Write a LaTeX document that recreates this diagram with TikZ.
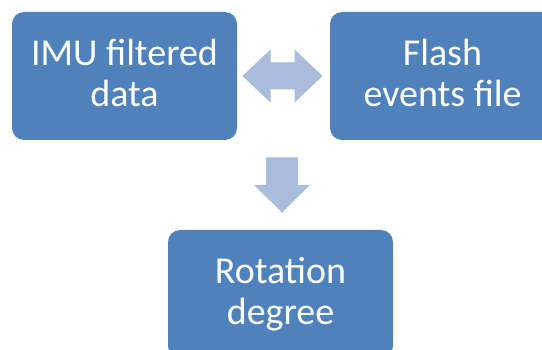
\documentclass[tikz,border=0pt]{standalone}
\usepackage{fontspec}
\setmainfont{Carlito}
\usetikzlibrary{calc}
\definecolor{boxblue}{HTML}{4F81BD}
\definecolor{arrowblue}{HTML}{A9BCDB}
\tikzset{
  block/.style={fill=boxblue, draw=none, rounded corners=12pt, text=white,
    minimum width=225pt, minimum height=128pt, align=center, inner sep=0pt,
    text depth=6pt, font=\fontsize{38}{41}\selectfont},
  blockarrow/.style={fill=arrowblue, draw=none}
}
\begin{document}
\begin{tikzpicture}[x=1pt,y=-1pt]
  \useasboundingbox[clip] (0,0) rectangle (542,350);
  \fill[white] (0,0) rectangle (542,350);
  \node[block] (imu) at (124.5,76) {IMU filtered\\data};
  \node[block] (flash) at (442.5,76) {Flash\\events file};
  \node[block] (rot) at (280.5,294) {Rotation\\degree};
  % two-way arrow between the upper blocks
  \coordinate (dm) at ($(imu.east)!0.5!(flash.west)$);
  \begin{scope}[shift={(dm)}]
    \fill[blockarrow] (-41,0) -- (-13,-26.5) -- (-13,-13.5) -- (11,-13.5) -- (11,-26.5)
      -- (39,0) -- (11,26.5) -- (11,13.5) -- (-13,13.5) -- (-13,26.5) -- cycle;
  \end{scope}
  % downward arrow into the lower block
  \coordinate (dd) at ($($(imu.south)!0.5!(flash.south)$)!0.5!(rot.north)$);
  \begin{scope}[shift={(dd)}]
    \fill[blockarrow] (-16,-27.5) -- (16,-27.5) -- (16,0) -- (28,0) -- (0,27.5)
      -- (-28,0) -- (-16,0) -- cycle;
  \end{scope}
\end{tikzpicture}
\end{document}
